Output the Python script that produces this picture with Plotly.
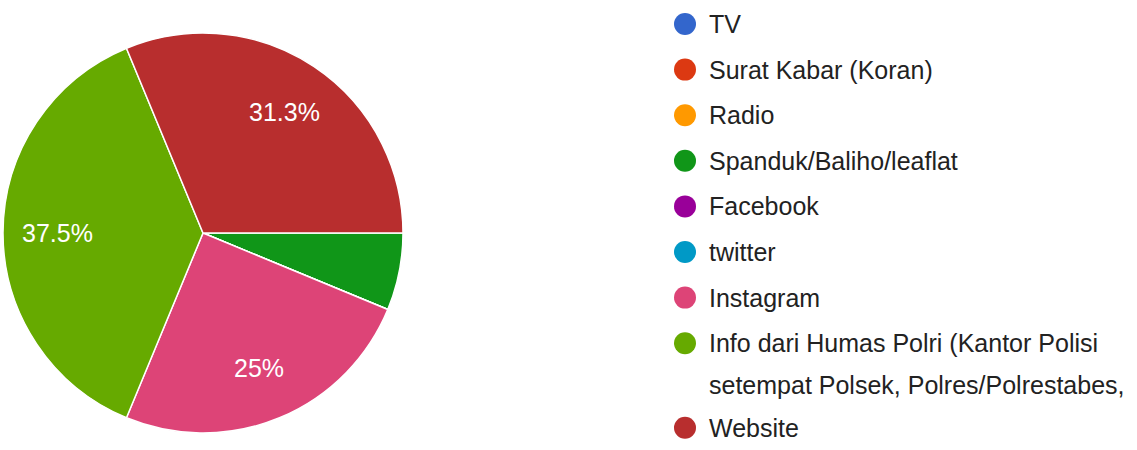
import math
from decimal import Decimal, ROUND_HALF_UP

import plotly.graph_objects as go

# Survey answers: where respondents got their information
categories = [
    "TV",
    "Surat Kabar (Koran)",
    "Radio",
    "Spanduk/Baliho/leaflat",
    "Facebook",
    "twitter",
    "Instagram",
    "Info dari Humas Polri (Kantor Polisi setempat Polsek, Polres/Polrestabes,",
    "Website",
]
responses = [0, 0, 0, 1, 0, 0, 4, 6, 5]
colors = [
    "#3366cc", "#dc3912", "#ff9900", "#109618", "#990099",
    "#0099c6", "#dd4477", "#66aa00", "#b82e2e",
]
# legend text as it wraps in the side panel
legend_lines = [
    ["TV"],
    ["Surat Kabar (Koran)"],
    ["Radio"],
    ["Spanduk/Baliho/leaflat"],
    ["Facebook"],
    ["twitter"],
    ["Instagram"],
    ["Info dari Humas Polri (Kantor Polisi", "setempat Polsek, Polres/Polrestabes,"],
    ["Website"],
]

W, H = 1137, 450
FONT = "Arial"

total = sum(responses)


def pct_label(v):
    p = (Decimal(v) * 100 / Decimal(total)).quantize(Decimal("0.1"), rounding=ROUND_HALF_UP)
    s = f"{p}"
    if s.endswith(".0"):
        s = s[:-2]
    return s + "%"


# pie geometry in pixels (x right, y down)
cx, cy, r = 203, 233, 200
start_deg = 90  # first slice begins at 3 o'clock, then runs clockwise
label_frac = 0.73

fig = go.Figure()
fig.add_trace(go.Pie(
    labels=categories,
    values=responses,
    textinfo="none",
    marker=dict(colors=colors, line=dict(color="white", width=1.5)),
    sort=False,
    direction="clockwise",
    rotation=start_deg,
    showlegend=False,
    hoverinfo="label+percent",
    domain=dict(x=[(cx - r) / W, (cx + r) / W], y=[1 - (cy + r) / H, 1 - (cy - r) / H]),
))

annotations = []

# percentage labels at the middle angle of each slice (small slices unlabeled)
acc = 0.0
for v in responses:
    frac = v / total
    if frac >= 0.1:
        mid = math.radians(start_deg + 360 * (acc + frac / 2))
        annotations.append(dict(
            x=cx + label_frac * r * math.sin(mid),
            y=cy - label_frac * r * math.cos(mid),
            xref="x", yref="y", text=pct_label(v), showarrow=False,
            xanchor="center", yanchor="middle",
            font=dict(family=FONT, size=25, color="white"),
        ))
    acc += frac

# hand-built legend: coloured dots plus wrapped labels
row_y = []
y = 24.0
for lines in legend_lines:
    row_y.append(y)
    y += 45.6 + 42.0 * (len(lines) - 1) - (3.0 if len(lines) > 1 else 0.0)

dot_x = 685
text_x = 707
fig.add_trace(go.Scatter(
    x=[dot_x] * len(categories),
    y=row_y,
    mode="markers",
    marker=dict(size=22, color=colors, line=dict(width=0)),
    hoverinfo="skip",
    showlegend=False,
    xaxis="x",
    yaxis="y",
))

for yy, lines in zip(row_y, legend_lines):
    for k, line in enumerate(lines):
        annotations.append(dict(
            x=text_x, y=yy + 42.0 * k, xref="x", yref="y",
            text=line, showarrow=False, xanchor="left", yanchor="middle",
            font=dict(family=FONT, size=25, color="#222222"),
        ))

fig.update_layout(
    width=W, height=H,
    margin=dict(l=0, r=0, t=0, b=0),
    paper_bgcolor="white",
    plot_bgcolor="rgba(0,0,0,0)",
    xaxis=dict(range=[0, W], visible=False, fixedrange=True),
    yaxis=dict(range=[H, 0], visible=False, fixedrange=True),
    annotations=annotations,
)

fig.write_html("out.html")
